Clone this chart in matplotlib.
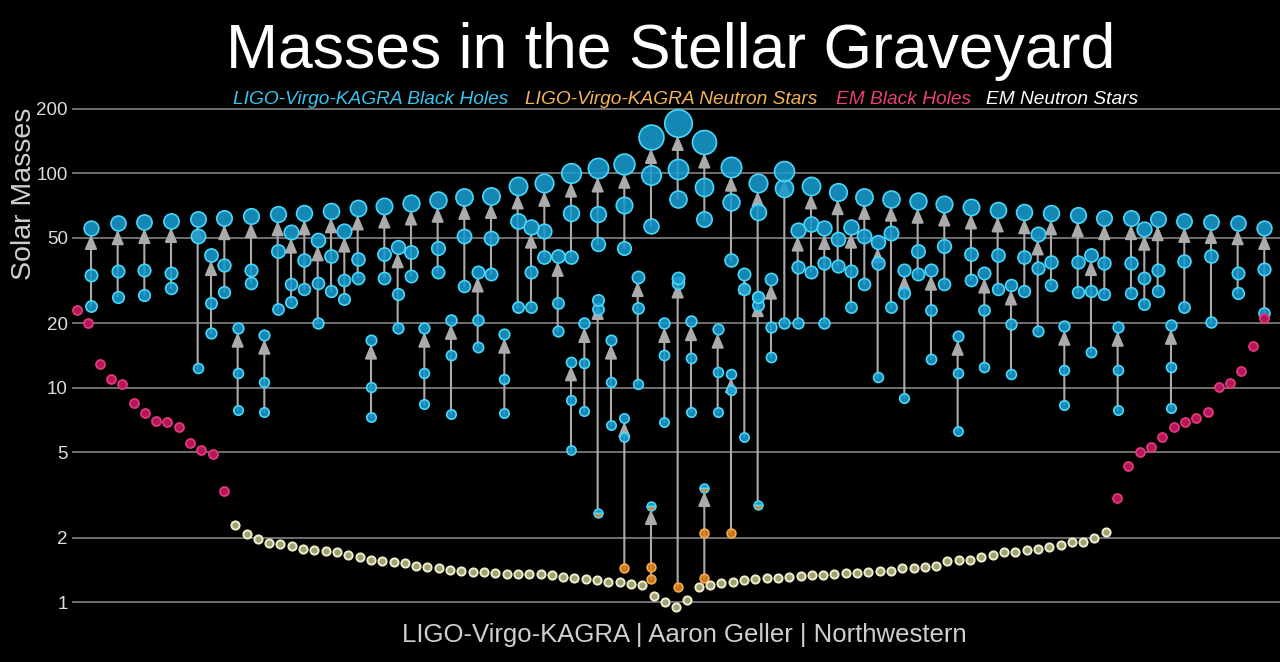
import matplotlib
matplotlib.use("Agg")
import matplotlib.pyplot as plt
from matplotlib.colors import to_rgba
import numpy as np

plt.rcParams['font.family'] = ['Liberation Sans', 'DejaVu Sans']

# ---------------- DATA ----------------
# LIGO-Virgo-KAGRA mergers: slot (ordering position), final mass, component masses
lvk_slot = [0, 2, 4, 6, 8, 9, 10, 11, 12, 13, 14, 15, 16, 17, 18, 19, 20, 21, 22, 23,
            24, 25, 26, 27, 28, 29, 30, 31, 32, 33, 34, 35, 36, 36, 37, 38, 38, 39, 40, 40,
            41, 42, 42, 43, 44, 44, 45, 46, 46, 47, 48, 48, 49, 50, 50, 51, 52, 53, 54, 55,
            56, 57, 58, 59, 60, 61, 62, 63, 64, 65, 66, 67, 68, 69, 70, 71, 72, 73, 74, 75,
            76, 77, 78, 79, 80, 81, 82, 84, 86, 88]
lvk_final = [55.5, 58.5, 59.3, 60, 61.2, 41.6, 61.9, 19.0, 63.2, 17.6,
             64.6, 53.3, 65.3, 48.9, 66.8, 53.9, 69.0, 16.7, 70.5, 45.3,
             72.9, 19.0, 75.2, 20.7, 77.7, 34.7, 78.5, 17.8, 87.4, 56.3,
             90, 41.2, 100, 13.2, 20, 106, 25.7, 16.7, 110.6, 7.2,
             33, 147.6, 2.8, 20, 172.3, 32.5, 20.4, 140, 3.4, 18.8,
             107, 11.6, 34, 90, 26.5, 32.1, 102.5, 54.5, 87.4, 55.5,
             81.9, 56.3, 77.7, 47.9, 76.1, 35.4, 74.4, 35.4, 72.1, 17.4,
             69.7, 34.3, 67.5, 30.1, 66.1, 52.2, 65.3, 19.4, 63.9, 41.6,
             61.9, 19.2, 61.9, 55, 61.2, 19.6, 60, 59.3, 58.5, 55.5]
lvk_m1 = [33.5, 35, 35.4, 34.3, 51, 24.9, 37.4, 11.7, 35.4, 10.6,
          43.4, 30.4, 39.4, 30.8, 41.2, 31.8, 39.8, 10.1, 42, 27.4,
          43, 11.7, 44.8, 14.2, 51, 20.7, 50, 11, 60, 34.7,
          53.9, 24.9, 65.3, 8.8, 13.0, 64.6, 23.3, 10.6, 71.3, 5.9,
          23.6, 98.5, 1.46, 14.2, 105, 30.7, 13.8, 86.6, 2.1, 11.9,
          73.7, 9.8, 28.9, 66, 24.4, 19.2, 85.6, 36.6, 58, 38,
          49.4, 35, 51, 38.4, 52.8, 27.7, 43.4, 23, 46, 11.7,
          42, 23, 41.6, 19.8, 40.8, 36.2, 38.7, 12.1, 38.7, 28.3,
          38, 12.1, 38, 32.6, 35.4, 12.5, 39, 41.2, 34.3, 35.8]
lvk_m2 = [24, 26.5, 27, 29.2, 12.3, 18, 28, 7.9, 30.8, 7.7,
          23.3, 25.1, 28.9, 20, 28.3, 26, 32.6, 7.3, 32.6, 19.0,
          33.2, 8.4, 34.7, 7.55, 29.8, 15.5, 33.9, 7.6, 23.7, 23.7,
          40.8, 18.4, 40.8, 5.1, 7.8, 46.8, 2.6, 6.7, 44.8, 1.44,
          10.4, 57, 1.28, 6.9, 76, 1.17, 7.7, 61.2, 1.29, 7.7,
          39.4, 2.1, 5.9, 26.5, 2.83, 13.9, 20, 20, 34.7, 20,
          37, 23.7, 30.4, 11.2, 23.7, 8.96, 33.9, 13.6, 30.4, 6.28,
          31.8, 12.5, 28.9, 11.6, 28.3, 18.4, 30.1, 8.3, 28, 14.7,
          27.4, 7.87, 27.7, 24.6, 28.3, 8.05, 23.7, 20.2, 27.7, 22.3]
# object kind for (final, m1, m2): b = black hole, n = neutron star, m = mass-gap (mixed)
lvk_kind = ['bbb'] * 90
for i, k in {36: 'bbm', 39: 'bbn', 42: 'mnn', 45: 'bbn', 48: 'mnn', 51: 'bbn', 54: 'bbm'}.items():
    lvk_kind[i] = k

# Electromagnetically observed objects (ordered left to right)
em_bh_left = [23, 20, 12.9, 11, 10.4, 8.5, 7.6, 7.0, 6.9, 6.55, 5.5, 5.1, 4.9, 3.3]
em_ns = [2.29, 2.08, 1.97, 1.89, 1.86, 1.83, 1.77, 1.75, 1.73, 1.71,
         1.66, 1.62, 1.57, 1.55, 1.54, 1.52, 1.47, 1.46, 1.44, 1.41,
         1.39, 1.38, 1.38, 1.37, 1.35, 1.35, 1.35, 1.35, 1.34, 1.31,
         1.29, 1.28, 1.27, 1.24, 1.24, 1.21, 1.20, 1.07, 1.00, 0.95,
         1.02, 1.17, 1.20, 1.23, 1.24, 1.27, 1.28, 1.29, 1.29, 1.31,
         1.32, 1.33, 1.34, 1.35, 1.37, 1.37, 1.38, 1.39, 1.39, 1.44,
         1.44, 1.46, 1.47, 1.55, 1.57, 1.57, 1.62, 1.66, 1.71, 1.71,
         1.75, 1.77, 1.81, 1.85, 1.90, 1.90, 2.0, 2.12]
em_bh_right = [3.06, 4.3, 5.0, 5.3, 5.9, 6.55, 6.9, 7.2, 7.7, 10.1, 10.5, 12.0, 15.6, 21.1]

y_ticks = [1, 2, 5, 10, 20, 50, 100, 200]
legend_labels = ['LIGO-Virgo-KAGRA Black Holes', 'LIGO-Virgo-KAGRA Neutron Stars',
                 'EM Black Holes', 'EM Neutron Stars']

# ---------------- STYLE ----------------
BH_FACE, BH_EDGE = '#189bcf', '#4ad6f8'
NS_FACE, NS_EDGE = '#de861f', '#f6aa4c'
EMBH_FACE, EMBH_EDGE = '#b3175a', '#e2397c'
EMNS_FACE, EMNS_EDGE = '#a0a070', '#efefd0'
ARROW_C = '#ababab'
legend_colors = ['#38c4ec', '#f3b35a', '#e8407a', '#ffffff']
legend_x = [233, 525, 836, 986]

W, H = 1280, 662
fig = plt.figure(figsize=(W / 100, H / 100), dpi=100, facecolor='black')
ax_left, ax_right = 72, 1280
ax_top, ax_bot = 84.5, 622.8
ax = fig.add_axes([ax_left / W, 1 - ax_bot / H, (ax_right - ax_left) / W, (ax_bot - ax_top) / H])
ax.set_facecolor('black')
ax.set_yscale('log')
ax.set_ylim(0.8, 260)
SLOT_PX = 13.333
X0_PX = 91
ax.set_xlim((ax_left - X0_PX) / SLOT_PX, (ax_right - X0_PX) / SLOT_PX)

for s in ax.spines.values():
    s.set_visible(False)
ax.set_xticks([])
ax.set_yticks(y_ticks)
ax.set_yticklabels([str(t) for t in y_ticks])
ax.yaxis.set_minor_locator(matplotlib.ticker.NullLocator())
ax.tick_params(axis='y', length=0, pad=3, labelsize=13.5, labelcolor='#dcdcdc')
ax.grid(axis='y', color='#8e8e8e', lw=1.1)
ax.set_axisbelow(True)


def radius_px(m):
    return 4.3 + 0.055 * m


def diam_pt(m):
    return 2 * radius_px(m) * 0.72


face = {'b': BH_FACE, 'n': NS_FACE}
edge = {'b': BH_EDGE, 'n': NS_EDGE, 'm': BH_EDGE}


def draw_obj(x, m, kind, z):
    d = diam_pt(m)
    if kind == 'm':
        ax.plot([x], [m], marker='o', ms=d, fillstyle='top',
                markerfacecolor=BH_FACE, markerfacecoloralt=NS_FACE,
                markeredgecolor=BH_EDGE, mew=1.1, ls='none', zorder=z)
    else:
        ax.scatter([x], [m], s=d ** 2, facecolors=[to_rgba(face[kind], 0.88)],
                   edgecolors=[edge[kind]], linewidths=1.2, zorder=z)


# arrows first
for s, mf, m1, m2 in zip(lvk_slot, lvk_final, lvk_m1, lvk_m2):
    ax.annotate('', xy=(s, mf), xytext=(s, m2),
                arrowprops=dict(arrowstyle='-|>,head_length=0.85,head_width=0.36',
                                mutation_scale=10, color=ARROW_C, lw=1.5,
                                shrinkA=0, shrinkB=radius_px(mf) * 0.72 - 0.8),
                zorder=2)

for s, mf, m1, m2, kd in zip(lvk_slot, lvk_final, lvk_m1, lvk_m2, lvk_kind):
    draw_obj(s, m2, kd[2], 3)
    draw_obj(s, m1, kd[1], 3)
    draw_obj(s, mf, kd[0], 4)

# EM objects
em_vals = em_bh_left + em_ns + em_bh_right
n_left, n_ns = len(em_bh_left), len(em_ns)
EM_X0_PX, EM_STEP_PX = 77, 11.305
em_x = [(EM_X0_PX + EM_STEP_PX * k - X0_PX) / SLOT_PX for k in range(len(em_vals))]
em_is_bh = [k < n_left or k >= n_left + n_ns for k in range(len(em_vals))]
dot = (2 * 4.5 * 0.72) ** 2
bx = [x for x, b in zip(em_x, em_is_bh) if b]
by = [v for v, b in zip(em_vals, em_is_bh) if b]
nx = [x for x, b in zip(em_x, em_is_bh) if not b]
ny = [v for v, b in zip(em_vals, em_is_bh) if not b]
ax.scatter(bx, by, s=dot, facecolors=EMBH_FACE, edgecolors=EMBH_EDGE, linewidths=1.3, zorder=3)
ax.scatter(nx, ny, s=(2 * 4.1 * 0.72) ** 2, facecolors=EMNS_FACE, edgecolors=EMNS_EDGE,
           linewidths=1.4, zorder=3)

# texts
fig.text(671 / W, 1 - 68 / H, 'Masses in the Stellar Graveyard', color='white',
         fontsize=45, ha='center', va='baseline')
for lab, col, lx in zip(legend_labels, legend_colors, legend_x):
    fig.text(lx / W, 1 - 104 / H, lab, color=col, fontsize=13.8, style='italic',
             ha='left', va='baseline')
fig.text(24 / W, 1 - 194 / H, 'Solar Masses', color='#cfcfcf', fontsize=20.5,
         rotation=90, ha='center', va='center')
fig.text(684 / W, 1 - 642 / H, 'LIGO-Virgo-KAGRA | Aaron Geller | Northwestern',
         color='#cfcfcf', fontsize=18.5, ha='center', va='baseline')

fig.savefig('out.png', dpi=100, facecolor='black')
